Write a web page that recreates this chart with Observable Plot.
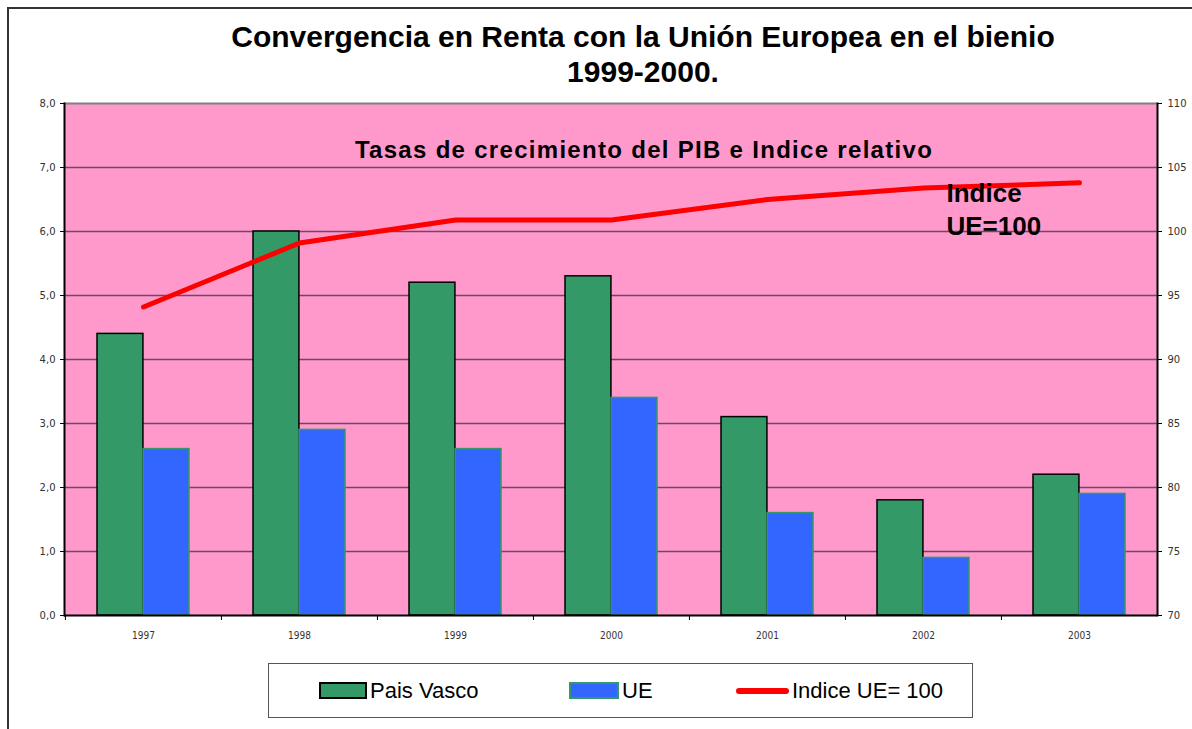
<!DOCTYPE html>
<html>
<head>
<meta charset="utf-8">
<script src="https://cdn.jsdelivr.net/npm/d3@7"></script>
<script src="https://cdn.jsdelivr.net/npm/@observablehq/plot@0.6"></script>
<style>
  html, body { margin: 0; padding: 0; background: #fff; }
  #page { position: relative; width: 1192px; height: 729px; overflow: hidden; }
  #border { position: absolute; left: 7px; top: 7px; width: 1300px; height: 800px;
            border-left: 2px solid #333; border-top: 2px solid #333; box-sizing: border-box; }
  #title { position: absolute; left: 193px; width: 900px; top: 19px; text-align: center;
           font-family: "Liberation Sans", Arial, sans-serif; font-weight: bold; font-size: 30px;
           line-height: 35px; color: #000; white-space: nowrap; }
  #chart { position: absolute; left: 0; top: 95px; }
  #legend { position: absolute; left: 268px; top: 663px; width: 705px; height: 55px;
            border: 1px solid #555; box-sizing: border-box; background: #fff;
            font-family: "Liberation Sans", Arial, sans-serif;
            font-size: 22px; color: #000; }
  .item { position: absolute; top: 0; height: 53px; display: flex; align-items: center; }
  .sw { display: inline-block; box-sizing: border-box; }
</style>
</head>
<body>
<div id="page">
  <div id="border"></div>
  <div id="title">Convergencia en Renta con la Unión Europea en el bienio<br>1999-2000.</div>
  <div id="chart"></div>
  <div id="legend"></div>
</div>
<script>
const years = ["1997", "1998", "1999", "2000", "2001", "2002", "2003"];
const paisVasco = [4.4, 6.0, 5.2, 5.3, 3.1, 1.8, 2.2];
const ue = [2.6, 2.9, 2.6, 3.4, 1.6, 0.9, 1.9];
const indice = [94.1, 99.1, 100.9, 100.9, 102.5, 103.4, 103.8];
const leftTicks = [0, 1, 2, 3, 4, 5, 6, 7, 8];
const rightTicks = [70, 75, 80, 85, 90, 95, 100, 105, 110];
const seriesNames = ["Pais Vasco", "UE", "Indice UE= 100"];
const subtitle = "Tasas de crecimiento del PIB e Indice relativo";
const lineNote = "Indice\nUE=100";

const rows = years.map((y, i) => ({year: y, pv: paisVasco[i], ue: ue[i], idx: indice[i]}));
// map right-axis (70..110) onto left-axis (0..8)
const toLeft = v => (v - rightTicks[0]) / (rightTicks[rightTicks.length - 1] - rightTicks[0]) * leftTicks[leftTicks.length - 1];

const W = 1192, mL = 64, mR = 35, mT = 8, mB = 40, innerH = 512;
const bw = (W - mL - mR) / years.length;
const pad = bw * 0.205, barW = (bw - 2 * pad) / 2;

const chart = Plot.plot({
  width: W,
  height: mT + innerH + mB,
  marginLeft: mL, marginRight: mR, marginTop: mT, marginBottom: mB,
  style: {background: "transparent", overflow: "visible"},
  x: {type: "band", domain: years, padding: 0, axis: null},
  y: {domain: [0, 8], axis: null},
  marks: [
    Plot.frame({fill: "#FF99CC", stroke: null}),
    Plot.ruleY(leftTicks.filter(d => d > 0 && d < 8), {stroke: "#6b4c5f", strokeWidth: 1.5}),
    Plot.ruleY([8], {stroke: "#808080", strokeWidth: 2}),
    Plot.barY(rows, {x: "year", y: "pv", fill: "#339966", stroke: "#000", strokeWidth: 1.5,
      insetLeft: pad, insetRight: pad + barW}),
    Plot.barY(rows, {x: "year", y: "ue", fill: "#3366FF", stroke: "#339966", strokeWidth: 1.5,
      insetLeft: pad + barW, insetRight: pad}),
    Plot.line(rows, {x: "year", y: d => toLeft(d.idx), stroke: "#FF0000", strokeWidth: 5,
      strokeLinecap: "round", strokeLinejoin: "round"}),
    Plot.ruleY([0], {stroke: "#000", strokeWidth: 2}),
    Plot.frame({anchor: "left", stroke: "#000", strokeWidth: 2}),
    Plot.frame({anchor: "right", stroke: "#000", strokeWidth: 2}),
    Plot.axisY({anchor: "left", ticks: leftTicks, tickSize: 4, tickPadding: 5,
      tickFormat: d => d.toFixed(1).replace(".", ","), label: null,
      fontFamily: "DejaVu Sans", fontSize: 10, fill: "#333", stroke: "#000"}),
    Plot.axisY({anchor: "right", ticks: leftTicks, tickSize: 4, tickPadding: 6,
      tickFormat: d => String(rightTicks[leftTicks.indexOf(d)]), label: null,
      fontFamily: "DejaVu Sans", fontSize: 10, fill: "#333", stroke: "#000"}),
    Plot.axisX({ticks: years, tickSize: 5, dx: -bw / 2, tickFormat: () => "", label: null, stroke: "#000"}),
    Plot.axisX({ticks: years, tickSize: 0, tickPadding: 16, label: null,
      fontFamily: "DejaVu Sans Condensed", fontSize: 10, fill: "#333"}),
    Plot.text([subtitle], {frameAnchor: "top", dx: 33, dy: 47, lineAnchor: "middle",
      fontFamily: "Liberation Sans", fontWeight: "bold", fontSize: 24, fill: "#000"}),
    Plot.text([lineNote], {frameAnchor: "top-left", dx: 882, dy: 104, lineAnchor: "middle",
      textAnchor: "start", lineHeight: 1.28,
      fontFamily: "Liberation Sans", fontWeight: "bold", fontSize: 26, fill: "#000"})
  ]
});
document.getElementById("chart").appendChild(chart);
chart.querySelectorAll("text").forEach(t => {
  if (t.textContent.startsWith("Tasas")) t.setAttribute("letter-spacing", "1.3");
});

// legend
const legend = document.getElementById("legend");
const items = [
  {left: 50, sw: `<span class="sw" style="width:48px;height:17px;background:#339966;border:2px solid #000"></span>`, label: seriesNames[0]},
  {left: 300, sw: `<span class="sw" style="width:50px;height:17px;background:#3366FF;border:2px solid #339966"></span>`, label: seriesNames[1]},
  {left: 467, sw: `<span class="sw" style="width:53px;height:6px;background:#FF0000;border-radius:3px"></span>`, label: seriesNames[2]}
];
items.forEach(it => {
  const d = document.createElement("div");
  d.className = "item";
  d.style.left = it.left + "px";
  d.innerHTML = it.sw + `<span style="margin-left:3px">${it.label}</span>`;
  legend.appendChild(d);
});
</script>
</body>
</html>
